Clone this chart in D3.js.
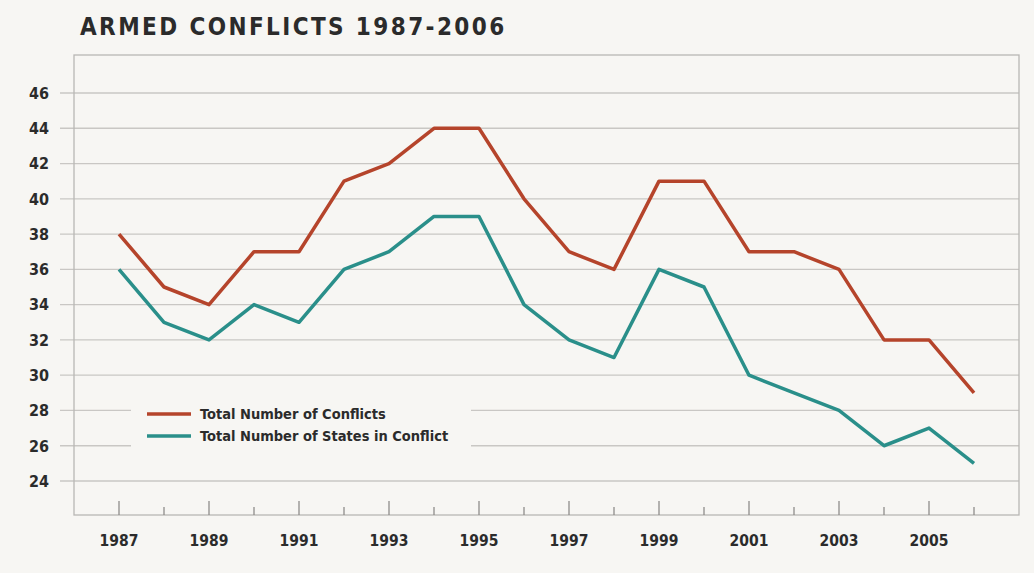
<!DOCTYPE html>
<html>
<head>
<meta charset="utf-8">
<script src="https://cdn.jsdelivr.net/npm/d3@7"></script>
<style>
  body { margin: 0; background: #f7f6f3; }
  svg { display: block; }
  text { font-family: "DejaVu Sans Condensed", "DejaVu Sans", sans-serif; font-weight: bold; fill: #2b2b2b; }
</style>
</head>
<body>
<div id="chart"></div>
<script>
/* Data */
var years     = [1987,1988,1989,1990,1991,1992,1993,1994,1995,1996,1997,1998,1999,2000,2001,2002,2003,2004,2005,2006];
var conflicts = [38,35,34,37,37,41,42,44,44,40,37,36,41,41,37,37,36,32,32,29];
var states    = [36,33,32,34,33,36,37,39,39,34,32,31,36,35,30,29,28,26,27,25];
var yTicks    = [24,26,28,30,32,34,36,38,40,42,44,46];
var xLabels   = [1987,1989,1991,1993,1995,1997,1999,2001,2003,2005];
var seriesNames = ['Total Number of Conflicts', 'Total Number of States in Conflict'];
var colors    = ['#b5442b', '#2a8f8a'];

var W = 1034, H = 573;
var pLeft = 74, pRight = 1019, pTop = 55, pBottom = 515;

var svg = d3.select('#chart').append('svg')
    .attr('width', W)
    .attr('height', H);

var x = d3.scaleLinear().domain([1986, 2007]).range([pLeft, pRight]);
var y = d3.scaleLinear().domain([22, 48]).range([516.3, 57.7]);

// Title
svg.append('text')
    .attr('x', 80).attr('y', 35)
    .style('font-size', '24px')
    .style('letter-spacing', '2.4px')
    .text('ARMED CONFLICTS 1987-2006');

// Gridlines
svg.append('g').selectAll('line').data(yTicks)
  .enter().append('line')
    .attr('x1', 60).attr('x2', pRight)
    .attr('y1', function(d){ return y(d); })
    .attr('y2', function(d){ return y(d); })
    .attr('stroke', '#c9c7c4')
    .attr('stroke-width', 1.3);

// Y labels
svg.append('g').selectAll('text').data(yTicks)
  .enter().append('text')
    .attr('x', 49)
    .attr('y', function(d){ return y(d); })
    .attr('dy', '0.36em')
    .attr('text-anchor', 'end')
    .style('font-size', '16px')
    .text(function(d){ return d; });

// Frame
svg.append('rect')
    .attr('x', pLeft).attr('y', pTop)
    .attr('width', pRight - pLeft).attr('height', pBottom - pTop)
    .attr('fill', 'none')
    .attr('stroke', '#b9b7b4')
    .attr('stroke-width', 1.3);

// X ticks
svg.append('g').selectAll('line').data(years)
  .enter().append('line')
    .attr('x1', function(d){ return x(d); })
    .attr('x2', function(d){ return x(d); })
    .attr('y1', pBottom)
    .attr('y2', function(d){ return (d % 2) ? pBottom - 14 : pBottom - 8; })
    .attr('stroke', '#8f8d8a')
    .attr('stroke-width', 1.3);

// X labels
svg.append('g').selectAll('text').data(xLabels)
  .enter().append('text')
    .attr('x', function(d){ return x(d); })
    .attr('y', 546)
    .attr('text-anchor', 'middle')
    .style('font-size', '15.5px')
    .text(function(d){ return d; });

// Legend (masks the gridlines behind it)
svg.append('rect')
    .attr('x', 131).attr('y', 398)
    .attr('width', 340).attr('height', 56)
    .attr('fill', '#f7f6f3');

var line = d3.line()
    .x(function(d, i){ return x(years[i]); })
    .y(function(d){ return y(d); });

[conflicts, states].forEach(function(s, k){
  svg.append('path')
      .attr('d', line(s))
      .attr('fill', 'none')
      .attr('stroke', colors[k])
      .attr('stroke-width', 3.5)
      .attr('stroke-linejoin', 'round');

  var ly = 414 + k * 22;
  svg.append('line')
      .attr('x1', 147).attr('x2', 191)
      .attr('y1', ly).attr('y2', ly)
      .attr('stroke', colors[k])
      .attr('stroke-width', 3.5);
  svg.append('text')
      .attr('x', 200).attr('y', ly)
      .attr('dy', '0.36em')
      .style('font-size', '14.5px')
      .text(seriesNames[k]);
});
</script>
</body>
</html>
